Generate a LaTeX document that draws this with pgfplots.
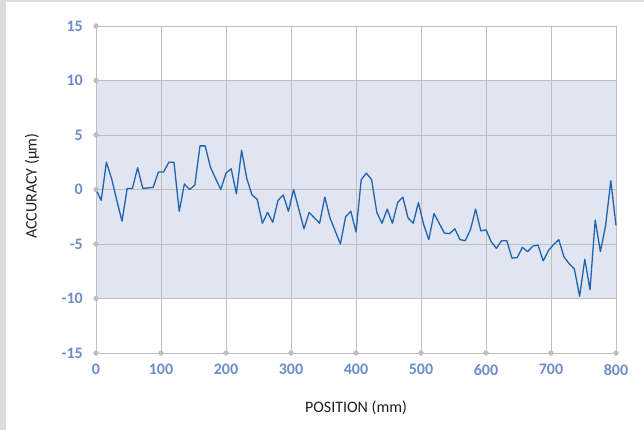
\documentclass[border=0pt]{standalone}
\usepackage{pgfplots}
\pgfplotsset{compat=1.18}
\usepackage{fontspec}
\setmainfont{Carlito}
\definecolor{gridgray}{RGB}{191,191,191}
\definecolor{bandcol}{RGB}{225,229,242}
\definecolor{tickblue}{RGB}{108,140,202}
\definecolor{linecol}{RGB}{30,100,175}
\definecolor{framegray}{RGB}{220,220,222}
\definecolor{labelcol}{RGB}{30,30,30}
\pgfplotstableread{
x y
0 0
8 -1.0
16 2.5
24 1.0
32 -1.0
40 -2.9
48 0.1
56 0.1
64 2.0
72 0.1
80 0.15
88 0.2
96 1.6
104 1.6
112 2.5
120 2.5
128 -2.0
136 0.5
144 0
152 0.4
160 4.0
168 4.0
176 2.05
184 1.0
192 0
200 1.5
208 1.9
216 -0.4
224 3.6
232 1.0
240 -0.5
248 -0.9
256 -3.1
264 -2.1
272 -3.0
280 -1.0
288 -0.5
296 -2.0
304 0
312 -1.8
320 -3.6
328 -2.1
336 -2.6
344 -3.1
352 -0.7
360 -2.6
368 -3.8
376 -5.0
384 -2.5
392 -2.0
400 -3.9
408 0.9
416 1.5
424 0.9
432 -2.1
440 -3.1
448 -1.8
456 -3.1
464 -1.2
472 -0.7
480 -2.6
488 -3.1
496 -1.2
504 -3.2
512 -4.6
520 -2.2
528 -3.1
536 -4.0
544 -4.05
552 -3.6
560 -4.6
568 -4.7
576 -3.7
584 -1.8
592 -3.8
600 -3.7
608 -4.8
616 -5.4
624 -4.7
632 -4.7
640 -6.3
648 -6.25
656 -5.3
664 -5.7
672 -5.2
680 -5.1
688 -6.55
696 -5.6
704 -5.05
712 -4.6
720 -6.2
728 -6.8
736 -7.3
744 -9.8
752 -6.4
760 -9.2
768 -2.8
776 -5.7
784 -3.3
792 0.8
800 -3.3
}\datatable
\begin{document}
\begin{tikzpicture}[x=1pt,y=1pt]
\path (0,0) rectangle (644,430);
\fill[framegray] (0,0) rectangle (6,430);
\fill[framegray] (6,428) rectangle (644,430);
\begin{axis}[
  set layers,
  at={(96pt,77pt)}, anchor=south west,
  scale only axis, width=520pt, height=327pt,
  xmin=0, xmax=800, ymin=-15, ymax=15,
  xtick={0,100,...,800}, ytick={-15,-10,...,15},
  grid=major,
  major grid style={draw=gridgray, line width=0.9pt},
  axis line style={draw=gridgray, line width=0.9pt},
  major tick length=0pt,
  clip=false,
  /pgf/number format/assume math mode=true,
  ticklabel style={font=\fontsize{16}{19}\selectfont\bfseries, text=tickblue, inner sep=0pt},
  yticklabel style={anchor=east, xshift=-13pt},
  xticklabel style={anchor=north, yshift=-11pt},
  every axis x label/.style={at={(axis description cs:0.5,-0.168)}, anchor=center},
  every axis y label/.style={at={(axis description cs:-0.123,0.51)}, rotate=90, anchor=center},
  label style={font=\fontsize{16}{19}\selectfont, text=labelcol},
  xlabel={POSITION (mm)},
  ylabel={ACCURACY (µm)},
]
\addplot[fill=bandcol, draw=none, on layer=axis background] coordinates {(0,-10) (800,-10) (800,10) (0,10)} -- cycle;
\addplot[only marks, mark=*, mark size=2.4pt, color=gridgray] coordinates {(0,-15) (0,-10) (0,-5) (0,0) (0,5) (0,10) (0,15)};
\addplot[only marks, mark=*, mark size=2.4pt, color=gridgray] coordinates {(100,-15) (200,-15) (300,-15) (400,-15) (500,-15) (600,-15) (700,-15) (800,-15)};
\addplot[color=linecol, line width=1.3pt, mark=none, line join=round] table[x=x,y=y] {\datatable};
\end{axis}
\end{tikzpicture}
\end{document}
